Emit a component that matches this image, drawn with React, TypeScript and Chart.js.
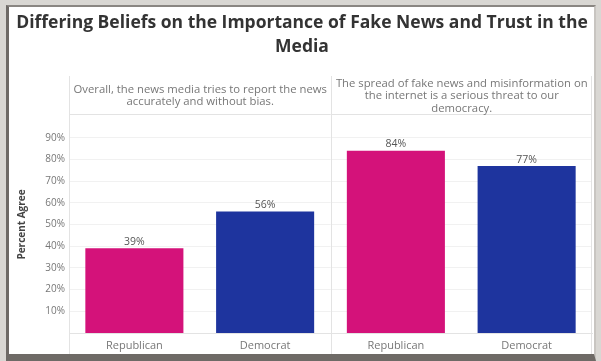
import React, { useEffect, useRef } from "react";
import { Chart, registerables } from "chart.js";

Chart.register(...registerables);

const titleLines = [
  "Differing Beliefs on the Importance of Fake News and Trust in the",
  "Media",
];
const panelHeaders = [
  ["Overall, the news media tries to report the news", "accurately and without bias."],
  ["The spread of fake news and misinformation on", "the internet is a serious threat to our", "democracy."],
];
const categories = ["Republican", "Democrat", "Republican", "Democrat"];
const values = [39, 56, 84, 77];
const barColors = ["#d4127a", "#1e349e", "#d4127a", "#1e349e"];
const yTicks = [10, 20, 30, 40, 50, 60, 70, 80, 90];

const FONT = "'Open Sans', 'DejaVu Sans', sans-serif";

const decorPlugin = {
  id: "decor",
  afterDraw(chart: any) {
    const { ctx, chartArea } = chart;
    const { left, right, top } = chartArea;
    ctx.save();
    // title
    ctx.fillStyle = "#333333";
    ctx.font = `bold 17.5px ${FONT}`;
    ctx.textAlign = "center";
    ctx.textBaseline = "middle";
    titleLines.forEach((t, i) => ctx.fillText(t, 302, 23 + i * 24));
    // panel lines
    ctx.strokeStyle = "#e3e3e3";
    ctx.lineWidth = 1;
    const xs = chart.scales.x;
    const divX = Math.round((xs.getPixelForValue(1) + xs.getPixelForValue(2)) / 2) + 0.5;
    ctx.beginPath();
    ctx.moveTo(left + 0.5, 76);
    ctx.lineTo(left + 0.5, 354);
    ctx.moveTo(divX, 76);
    ctx.lineTo(divX, 354);
    ctx.moveTo(right - 0.5, 76);
    ctx.lineTo(right - 0.5, 354);
    ctx.moveTo(left, top - 1.5);
    ctx.lineTo(right, top - 1.5);
    ctx.stroke();
    // headers
    ctx.fillStyle = "#777777";
    ctx.font = `11.3px ${FONT}`;
    const centers = [(left + divX) / 2, (divX + right) / 2];
    panelHeaders.forEach((lines, p) => {
      const lh = 12.5;
      const startY = 96 - ((lines.length - 1) * lh) / 2;
      lines.forEach((l, i) => ctx.fillText(l, centers[p], startY + i * lh));
    });
    // value labels
    const meta = chart.getDatasetMeta(0);
    ctx.fillStyle = "#555555";
    ctx.font = `10.5px ${FONT}`;
    ctx.textBaseline = "bottom";
    meta.data.forEach((bar: any, i: number) => {
      ctx.fillText(values[i] + "%", bar.x, bar.y - 1);
    });
    ctx.restore();
  },
};

export default function App() {
  const ref = useRef<HTMLCanvasElement>(null);
  useEffect(() => {
    if (!ref.current) return;
    const chart = new Chart(ref.current, {
      type: "bar",
      data: {
        labels: categories,
        datasets: [
          {
            data: values,
            backgroundColor: barColors,
            borderWidth: 0,
            barPercentage: 0.75,
            categoryPercentage: 1,
          },
        ],
      },
      options: {
        responsive: false,
        animation: false,
        layout: { padding: { left: 0, right: 9, top: 116, bottom: 0 } },
        plugins: { legend: { display: false }, tooltip: { enabled: false } },
        scales: {
          x: {
            grid: { display: false, drawTicks: false },
            border: { display: true, color: "#e3e3e3" },
            ticks: {
              color: "#777777",
              font: { family: FONT, size: 11 },
              padding: 6,
            },
            afterFit(scale: any) {
              scale.height = 28;
            },
          },
          y: {
            min: 0,
            max: 100,
            afterBuildTicks(scale: any) {
              scale.ticks = yTicks.map((v) => ({ value: v }));
            },
            ticks: {
              color: "#777777",
              font: { family: FONT, size: 10 },
              padding: 4,
              callback: (v: any) => v + "%",
            },
            grid: { color: "#f1f1f1", drawTicks: false },
            border: { display: false },
            title: {
              display: true,
              text: "Percent Agree",
              color: "#444444",
              font: { family: FONT, size: 10, weight: "bold" },
              padding: { top: 16, bottom: 0 },
            },
            afterFit(scale: any) {
              scale.width = 69;
            },
          },
        },
      },
      plugins: [decorPlugin],
    });
    return () => chart.destroy();
  }, []);
  return (
    <div
      style={{
        position: "fixed",
        left: 0,
        top: 0,
        width: 601,
        height: 361,
        background: "#d9d7d3",
        overflow: "hidden",
      }}
    >
      <div
        style={{
          position: "absolute",
          left: 6,
          top: 5,
          width: 590,
          height: 356,
          background: "#ffffff",
          borderLeft: "3px solid #6e6a66",
          borderTop: "2px solid #8a8682",
          borderBottom: "7px solid #6e6a66",
          borderRight: "2px solid #c8c5c1",
          boxSizing: "border-box",
        }}
      />
      <canvas
        ref={ref}
        width={601}
        height={361}
        style={{ position: "absolute", left: 0, top: 0 }}
      />
    </div>
  );
}
